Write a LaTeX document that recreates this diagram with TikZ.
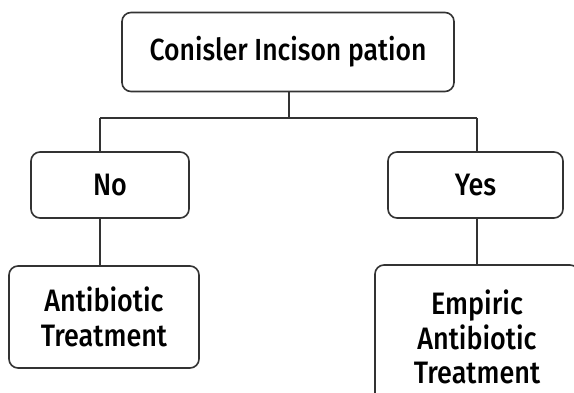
\documentclass[tikz,border=0pt]{standalone}
\usepackage{fontspec}
\setmainfont{Liberation Sans}
\newfontfamily\medfont[FakeStretch=0.87]{Fira Sans Medium}
\begin{document}
\begin{tikzpicture}[x=1pt,y=-1pt,
  box/.style={draw=black!80, line width=1.6pt, rounded corners=9pt, align=center,
    inner sep=0pt, font=\medfont\fontsize{31}{34.5}\selectfont},
  conn/.style={draw=black!80, line width=1.4pt}]
\useasboundingbox[fill=white] (0,0) rectangle (574,393);
\clip (0,0) rectangle (574,393);
\node[box, minimum width=332pt, minimum height=79pt, font=\medfont\fontsize{30.5}{33}\selectfont] (top) at (288,52) {Conisler Incison pation};
\node[box, minimum width=158pt, minimum height=66pt] (no) at (110,185) {No};
\node[box, minimum width=175pt, minimum height=66pt] (yes) at (475.5,185) {Yes};
\node[box, minimum width=190pt, minimum height=102pt] (ab) at (104,317) {Antibiotic\\Treatment};
\node[box, minimum width=204pt, minimum height=144pt] (emp) at (477,337) {Empiric\\Antibiotic\\Treatment};
\coordinate (jl) at (100,118);
\coordinate (jr) at (477,118);
\coordinate (jm) at (289,118);
\draw[conn] (jm |- top.south) -- (jm);
\draw[conn] (jl) -- (jr);
\draw[conn] (jl) -- (jl |- no.north);
\draw[conn] (jr) -- (jr |- yes.north);
\draw[conn] (jl |- no.south) -- (jl |- ab.north);
\draw[conn] (jr |- yes.south) -- (jr |- emp.north);
\end{tikzpicture}
\end{document}
